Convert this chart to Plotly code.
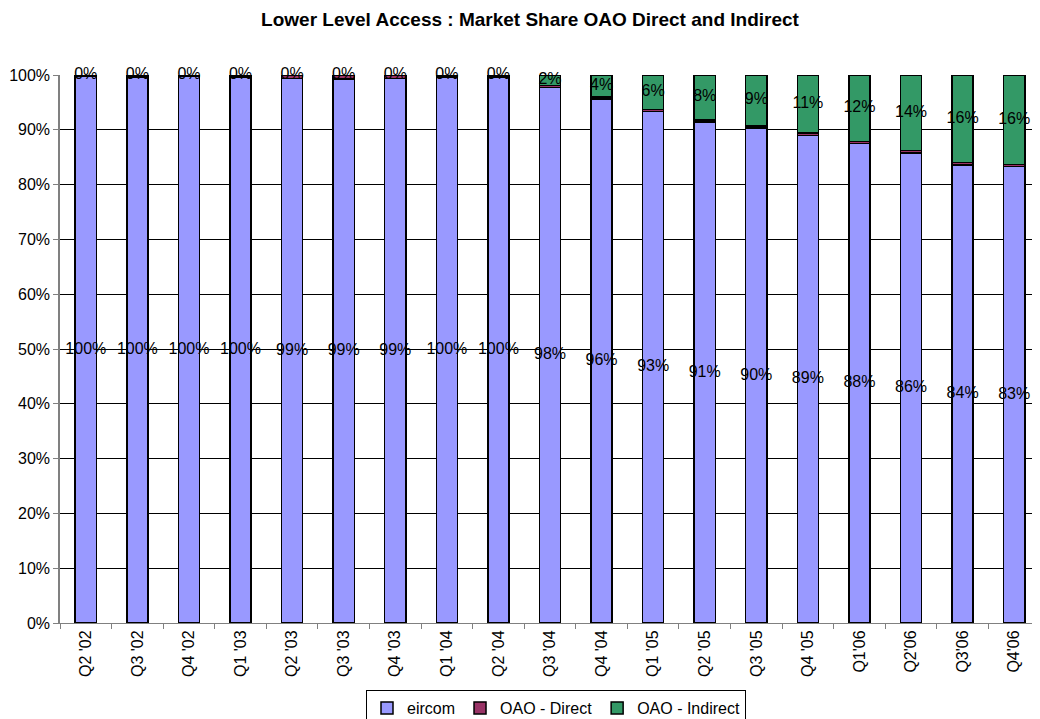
import plotly.graph_objects as go

categories = ["Q2 '02", "Q3 '02", "Q4 '02", "Q1 '03", "Q2 '03", "Q3 '03", "Q4 '03",
              "Q1 '04", "Q2 '04", "Q3 '04", "Q4 '04", "Q1 '05", "Q2 '05", "Q3 '05",
              "Q4 '05", "Q1'06", "Q2'06", "Q3'06", "Q4'06"]
eircom = [99.8, 99.6, 99.7, 99.6, 99.4, 99.3, 99.4, 99.6, 99.6,
          97.7, 95.6, 93.3, 91.4, 90.3, 89.0, 87.5, 85.8, 83.6, 83.3]
oao_direct = [0.2, 0.4, 0.3, 0.4, 0.6, 0.7, 0.6, 0.3, 0.3,
              0.4, 0.4, 0.4, 0.4, 0.4, 0.4, 0.4, 0.4, 0.4, 0.4]
oao_indirect = [0.0, 0.0, 0.0, 0.0, 0.0, 0.0, 0.0, 0.1, 0.1,
                1.9, 4.0, 6.3, 8.2, 9.3, 10.6, 12.1, 13.8, 16.0, 16.3]
tick_vals = [i / 10 for i in range(11)]

e = [v / 100 for v in eircom]
d = [v / 100 for v in oao_direct]
ind = [v / 100 for v in oao_indirect]

line = dict(color="#000000", width=1.5)
font = "Arial, Liberation Sans, sans-serif"

W, H = 1032, 711  # page body has an 8px margin inside the 1040x719 window

fig = go.Figure()
fig.add_trace(go.Bar(x=categories, y=e, name="eircom",
                     marker=dict(color="#9999FF", line=line)))
fig.add_trace(go.Bar(x=categories, y=d, name="OAO - Direct",
                     marker=dict(color="#993366", line=line)))
fig.add_trace(go.Bar(x=categories, y=ind, name="OAO - Indirect",
                     marker=dict(color="#339966", line=line)))

# labels at segment centres
e_mid = [v / 2 for v in e]
i_mid = [a + b + c / 2 for a, b, c in zip(e, d, ind)]
fig.add_trace(go.Scatter(x=categories, y=e_mid, mode="text",
                         text=[f"{round(v)}%" for v in eircom],
                         textfont=dict(family=font, size=16, color="#000"),
                         showlegend=False, hoverinfo="skip", cliponaxis=False))
fig.add_trace(go.Scatter(x=categories, y=i_mid, mode="text",
                         text=[f"{round(v)}%" for v in oao_indirect],
                         textfont=dict(family=font, size=16, color="#000"),
                         showlegend=False, hoverinfo="skip", cliponaxis=False))

fig.update_layout(
    width=W, height=H,
    barmode="stack", bargap=0.59,
    paper_bgcolor="#FFFFFF", plot_bgcolor="#FFFFFF",
    margin=dict(l=52, r=0, t=67, b=96),
    title=dict(text="<b>Lower Level Access : Market Share OAO Direct and Indirect</b>",
               x=522 / W, xanchor="center", y=1 - 11 / H, yanchor="middle",
               font=dict(family=font, size=19, color="#000")),
    font=dict(family=font, size=16, color="#000"),
    legend=dict(orientation="h", xref="container", yref="container",
                x=548 / W, xanchor="center", y=29 / H, yanchor="top",
                bordercolor="#000", borderwidth=1, bgcolor="#FFF",
                font=dict(family=font, size=16, color="#000"),
                traceorder="normal", itemwidth=30, tracegroupgap=0),
    showlegend=True,
)
fig.update_xaxes(type="category", range=[-0.5, len(categories) - 0.5],
                 tickangle=-90, tickson="boundaries",
                 ticks="outside", ticklen=5, tickcolor="#808080",
                 showline=True, linecolor="#808080", linewidth=1,
                 tickfont=dict(family=font, size=16, color="#000"),
                 showgrid=False)
fig.update_yaxes(range=[0, 1], tickvals=tick_vals, tickformat=".0%",
                 ticks="outside", ticklen=5, tickcolor="#808080",
                 showline=True, linecolor="#808080", linewidth=1.5,
                 showgrid=True, gridcolor="#000000", gridwidth=1,
                 zeroline=False,
                 tickfont=dict(family=font, size=16, color="#000"))

fig.write_html("out.html")
